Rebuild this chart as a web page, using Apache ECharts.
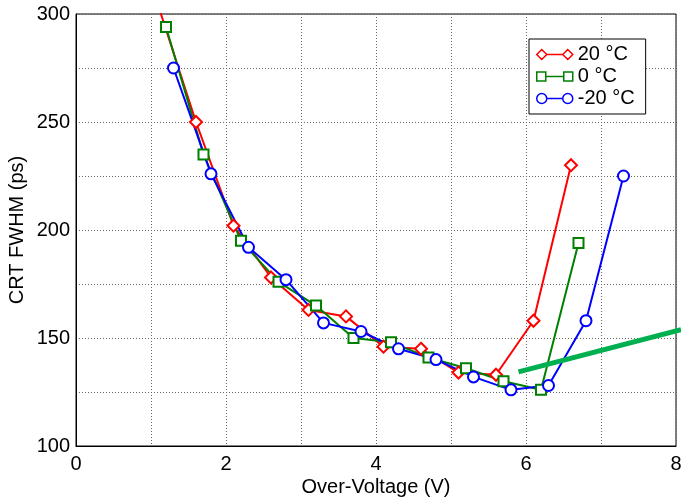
<!DOCTYPE html>
<html>
<head>
<meta charset="utf-8">
<script src="https://cdn.jsdelivr.net/npm/echarts@6/dist/echarts.min.js"></script>
<style>
  html, body { margin: 0; padding: 0; background: #fff; }
  #chart { width: 681px; height: 500px; }
</style>
</head>
<body>
<div id="chart"></div>
<script>
// CRT FWHM versus over-voltage at three temperatures
const xTicks = [0, 2, 4, 6, 8];
const yTicks = [100, 150, 200, 250, 300];

const overVoltage20 = [1.1, 1.6, 2.1, 2.6, 3.1, 3.6, 4.1, 4.6, 5.1, 5.6, 6.1, 6.6];
const fwhm20        = [303.5, 250, 202, 178, 163, 160, 146, 145, 134, 133, 158, 230];

const overVoltage0  = [1.2, 1.7, 2.2, 2.7, 3.2, 3.7, 4.2, 4.7, 5.2, 5.7, 6.2, 6.7];
const fwhm0         = [294, 235, 195, 176, 165, 150, 148, 141, 136, 130, 126, 194];

const overVoltageM20 = [1.3, 1.8, 2.3, 2.8, 3.3, 3.8, 4.3, 4.8, 5.3, 5.8, 6.3, 6.8, 7.3];
const fwhmM20        = [275, 226, 192, 177, 157, 153, 145, 140, 132, 126, 128, 158, 225];

// straight trend segment; it runs a little past the right frame
const trendX = [5.9, 8.067];
const trendY = [134.3, 153.9];

const seriesNames = ['20 °C', '0 °C', '-20 °C'];
const seriesColors = ['#ff0000', '#008000', '#0000ff'];

const zip = (xs, ys) => xs.map((x, i) => [x, ys[i]]);

const FONT = "'Liberation Sans', Arial, sans-serif";
const FS = 20;

const legendIcons = [
  'path://M0 5 L5 0 L10 5 L5 10 Z M10 5 L26 5 M26 5 L31 0 L36 5 L31 10 Z',
  'path://M0 0.5 L9 0.5 L9 9.5 L0 9.5 Z M9 5 L27 5 M27 0.5 L36 0.5 L36 9.5 L27 9.5 Z',
  'path://M0 5 A5 5 0 1 1 10 5 A5 5 0 1 1 0 5 Z M10 5 L26 5 M26 5 A5 5 0 1 1 36 5 A5 5 0 1 1 26 5 Z'
];

const chart = echarts.init(document.getElementById('chart'), null, { renderer: 'canvas' });

const gridLine = { show: true, lineStyle: { type: [1, 2], color: '#666', width: 1 } };

function curve(name, xs, ys, color, symbol, size) {
  return {
    name: name,
    type: 'line',
    data: zip(xs, ys),
    symbol: symbol,
    symbolSize: size,
    showAllSymbol: true,
    lineStyle: { color: color, width: 2 },
    itemStyle: { color: color, borderColor: color, borderWidth: 1.5 },
    emphasis: { disabled: true },
    z: 3
  };
}

// main plot area spans x = 76..676 px (8 V); the overlay grid reaches the
// window edge at 681 px, so its x range is extended by the same scale
const plotLeft = 76, plotRight = 5;
const overlayMax = xTicks[xTicks.length - 1] * (681 - plotLeft) / (681 - plotLeft - plotRight);

chart.setOption({
  animation: false,
  backgroundColor: '#fff',
  textStyle: { fontFamily: FONT },
  grid: [
    {
      left: plotLeft, right: plotRight, top: 14, bottom: 54,
      outerBoundsMode: 'none', containLabel: false,
      show: true, borderColor: '#000', borderWidth: 1, backgroundColor: 'transparent'
    },
    {
      left: plotLeft, right: 0, top: 14, bottom: 54,
      outerBoundsMode: 'none', containLabel: false, show: false
    }
  ],
  legend: {
    orient: 'vertical',
    left: 529, top: 39,
    padding: [5, 11, 5, 7],
    itemWidth: 36, itemHeight: 10, itemGap: 1,
    backgroundColor: '#fff',
    borderColor: '#000', borderWidth: 1, borderRadius: 0,
    textStyle: { fontSize: FS, color: '#000', fontFamily: FONT, lineHeight: 21 },
    selectedMode: false,
    data: seriesNames.map((n, i) => ({
      name: n,
      icon: legendIcons[i],
      itemStyle: { color: 'rgba(0,0,0,0)', borderColor: seriesColors[i], borderWidth: 1.5 }
    }))
  },
  xAxis: [
    {
      type: 'value', gridIndex: 0,
      min: xTicks[0], max: xTicks[xTicks.length - 1], interval: 2,
      name: 'Over-Voltage (V)',
      nameLocation: 'middle', nameGap: 31, nameMoveOverlap: false,
      nameTextStyle: { fontSize: FS, color: '#000', fontFamily: FONT },
      axisLine: { lineStyle: { color: '#000', width: 1 } },
      axisTick: { show: false },
      axisLabel: { fontSize: FS, color: '#000', margin: 8, fontFamily: FONT },
      splitLine: gridLine,
      minorTick: { show: false, splitNumber: 2 },
      minorSplitLine: gridLine
    },
    {
      type: 'value', gridIndex: 1, show: false,
      min: xTicks[0], max: overlayMax
    }
  ],
  yAxis: [
    {
      type: 'value', gridIndex: 0,
      min: yTicks[0], max: yTicks[yTicks.length - 1], interval: 50,
      name: 'CRT FWHM (ps)',
      nameLocation: 'middle', nameGap: 49, nameMoveOverlap: false,
      nameTextStyle: { fontSize: FS, color: '#000', fontFamily: FONT },
      axisLine: { show: true, lineStyle: { color: '#000', width: 1 } },
      axisTick: { show: false },
      axisLabel: { fontSize: FS, color: '#000', margin: 6, fontFamily: FONT },
      splitLine: gridLine,
      minorTick: { show: false, splitNumber: 2 },
      minorSplitLine: gridLine
    },
    {
      type: 'value', gridIndex: 1, show: false,
      min: yTicks[0], max: yTicks[yTicks.length - 1]
    }
  ],
  series: [
    curve(seriesNames[0], overVoltage20, fwhm20, seriesColors[0], 'emptyDiamond', 12),
    curve(seriesNames[1], overVoltage0, fwhm0, seriesColors[1], 'emptyRect', 10),
    curve(seriesNames[2], overVoltageM20, fwhmM20, seriesColors[2], 'emptyCircle', 11),
    {
      name: 'trend',
      type: 'line',
      xAxisIndex: 1, yAxisIndex: 1,
      data: zip(trendX, trendY),
      symbol: 'none',
      clip: false,
      lineStyle: { color: '#00b050', width: 5 },
      emphasis: { disabled: true },
      z: 4
    }
  ]
});
</script>
</body>
</html>
